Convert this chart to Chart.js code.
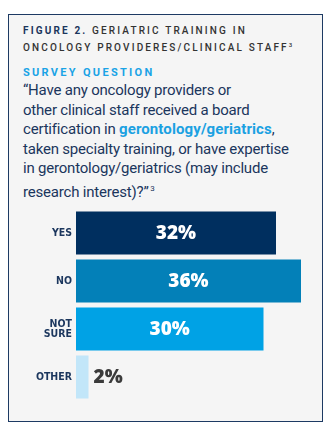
<!DOCTYPE html>
<html>
<head>
<meta charset="utf-8">
<script src="https://cdn.jsdelivr.net/npm/chart.js@4.4.1/dist/chart.umd.min.js"></script>
<style>
  html, body { margin: 0; padding: 0; background: #fff; }
  body { width: 332px; height: 431px; position: relative; overflow: hidden; }
  .box {
    position: absolute; left: 8px; top: 14px; width: 313px; height: 406px;
    border: 1px solid #1d3a63; background: #f5f5f5;
  }
  .title {
    position: absolute; left: 14px; top: 9px; width: 300px;
    font-family: Roboto, sans-serif; font-size: 10px; font-weight: 500;
    letter-spacing: 2.15px; line-height: 14px; color: #333;
  }
  .title b { color: #1b365d; font-weight: 700; }
  .title sup { font-size: 6px; letter-spacing: 0; vertical-align: 4px; }
  .sq {
    position: absolute; left: 14px; top: 51px;
    font-family: Roboto, sans-serif; font-size: 11px; font-weight: 700;
    letter-spacing: 2.3px; color: #1aa3e6;
  }
  .question {
    position: absolute; left: 14px; top: 66px; width: 305px;
    font-family: Roboto, sans-serif; font-size: 15px; line-height: 19.6px;
    letter-spacing: -0.2px; color: #1b365d;
  }
  .question .hl { color: #1ba1e2; font-weight: 700; letter-spacing: 0.1px; }
  .question sup { font-size: 8px; vertical-align: 6px; }
  #chartWrap { position: absolute; left: 9px; top: 200px; width: 312px; height: 210px; }
</style>
</head>
<body>
<div class="box">
  <div class="title"><b>FIGURE 2.</b> GERIATRIC TRAINING IN<br>ONCOLOGY PROVIDERES/CLINICAL STAFF<sup>3</sup></div>
  <div class="sq">SURVEY QUESTION</div>
  <div class="question">“Have any oncology providers or<br>other clinical staff received a board<br>certification in <span class="hl">gerontology/geriatrics</span>,<br>taken specialty training, or have expertise<br>in gerontology/geriatrics (may include<br>research interest)?”<sup>&nbsp;3</sup></div>
</div>
<div id="chartWrap"><canvas id="chart"></canvas></div>
<script>
// survey answers and their shares (%)
const categories = [['YES'], ['NO'], ['NOT', 'SURE'], ['OTHER']];
const values = [32, 36, 30, 2];
const barColors = ['#002f5f', '#0380b8', '#00a2e5', '#c2e6f9'];
const labelColors = ['#ffffff', '#ffffff', '#ffffff', '#3b3b3b'];

// draws the percentage inside each bar, or just after it when the bar is too short
const valueLabels = {
  id: 'valueLabels',
  afterDatasetsDraw(chart) {
    const ctx = chart.ctx;
    const meta = chart.getDatasetMeta(0);
    ctx.save();
    ctx.font = '800 19px "Open Sans", sans-serif';
    ctx.textBaseline = 'middle';
    meta.data.forEach((bar, i) => {
      const text = values[i] + '%';
      const w = bar.x - bar.base;
      ctx.fillStyle = labelColors[i];
      if (w > 50) {
        ctx.textAlign = 'center';
        ctx.fillText(text, bar.base + w / 2, bar.y + 1);
      } else {
        ctx.textAlign = 'left';
        ctx.fillText(text, bar.x + 5, bar.y + 1);
      }
    });
    ctx.restore();
  }
};

new Chart(document.getElementById('chart'), {
  type: 'bar',
  data: {
    labels: categories,
    datasets: [{
      data: values,
      backgroundColor: barColors,
      borderWidth: 0,
      barPercentage: 1,
      categoryPercentage: 0.9
    }]
  },
  options: {
    indexAxis: 'y',
    responsive: true,
    maintainAspectRatio: false,
    animation: false,
    layout: { padding: { top: 6, bottom: 4, right: 7.5, left: 0 } },
    plugins: { legend: { display: false }, tooltip: { enabled: false } },
    scales: {
      x: { display: false, min: 0, max: 38 },
      y: {
        border: { display: false },
        grid: { display: false, drawTicks: false },
        afterFit: (scale) => { scale.width = 67; },
        ticks: {
          padding: 4,
          color: '#1b365d',
          font: { family: '"DejaVu Sans Condensed", sans-serif', size: 10.5, weight: 'bold', lineHeight: 0.95 }
        }
      }
    }
  },
  plugins: [valueLabels]
});
</script>
</body>
</html>
